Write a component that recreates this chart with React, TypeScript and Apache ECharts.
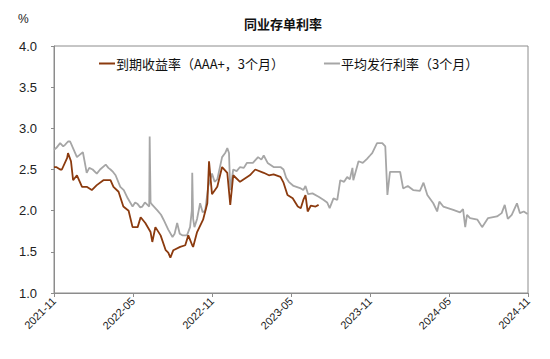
import React, { useEffect, useRef } from "react";
import * as echarts from "echarts";

const titleText = "同业存单利率";
const brownName = "到期收益率（AAA+，3个月）";
const grayName = "平均发行利率（3个月）";
const yTicks = [1.0, 1.5, 2.0, 2.5, 3.0, 3.5, 4.0];
const xTickLabels = ["2021-11", "2022-05", "2022-11", "2023-05", "2023-11", "2024-05", "2024-11"];

const brownDates = [
  "2021-11-01", "2021-11-06", "2021-11-15", "2021-11-19", "2021-12-01", "2021-12-03", "2021-12-10",
  "2021-12-15", "2021-12-24", "2022-01-05", "2022-01-16", "2022-01-28", "2022-02-08", "2022-02-22",
  "2022-03-10", "2022-03-17", "2022-03-29", "2022-04-09", "2022-04-21", "2022-04-30", "2022-05-12",
  "2022-05-19", "2022-05-30", "2022-06-11", "2022-06-15", "2022-06-22", "2022-07-04", "2022-07-16",
  "2022-07-22", "2022-07-27", "2022-08-03", "2022-08-19", "2022-08-31", "2022-09-07", "2022-09-16",
  "2022-09-18", "2022-09-27", "2022-10-11", "2022-10-21", "2022-10-25", "2022-11-01", "2022-11-13",
  "2022-11-24", "2022-12-06", "2022-12-13", "2022-12-20", "2023-01-05", "2023-01-28", "2023-02-09",
  "2023-02-27", "2023-03-11", "2023-03-22", "2023-04-07", "2023-04-14", "2023-04-23", "2023-05-05",
  "2023-05-17", "2023-05-24", "2023-05-30", "2023-06-04", "2023-06-09", "2023-06-16", "2023-06-27",
  "2023-07-04",
];
const brownValues = [
  2.53, 2.53, 2.5, 2.5, 2.64, 2.7, 2.6,
  2.37, 2.43, 2.29, 2.29, 2.25, 2.31, 2.37,
  2.37, 2.29, 2.23, 2.05, 2.0, 1.8, 1.8,
  1.92, 1.85, 1.74, 1.62, 1.8, 1.7, 1.52,
  1.49, 1.43, 1.52, 1.56, 1.58, 1.7, 1.58,
  1.56, 1.74, 1.89, 2.09, 2.6, 2.2, 2.29,
  2.53, 2.46, 2.07, 2.43, 2.35, 2.43, 2.5,
  2.46, 2.43, 2.44, 2.41, 2.34, 2.19, 2.15,
  2.05, 2.03, 2.13, 2.19, 1.99, 2.06, 2.05,
  2.07,
];

const grayDates = [
  "2021-11-01", "2021-11-06", "2021-11-15", "2021-11-22", "2021-11-26", "2021-12-03", "2021-12-08",
  "2021-12-13", "2021-12-24", "2021-12-31", "2022-01-07", "2022-01-11", "2022-01-16", "2022-01-22",
  "2022-01-30", "2022-02-08", "2022-02-15", "2022-02-27", "2022-03-05", "2022-03-10", "2022-03-16",
  "2022-03-22", "2022-04-02", "2022-04-10", "2022-04-19", "2022-04-30", "2022-05-06", "2022-05-12",
  "2022-05-18", "2022-05-23", "2022-05-29", "2022-06-04", "2022-06-08", "2022-06-09", "2022-06-11",
  "2022-06-15", "2022-06-27", "2022-07-05", "2022-07-11", "2022-07-22", "2022-08-01", "2022-08-06",
  "2022-08-12", "2022-08-18", "2022-08-24", "2022-09-04", "2022-09-11", "2022-09-15", "2022-09-16",
  "2022-09-18", "2022-09-21", "2022-09-27", "2022-10-04", "2022-10-10", "2022-10-16", "2022-10-23",
  "2022-11-01", "2022-11-07", "2022-11-13", "2022-11-24", "2022-12-01", "2022-12-06", "2022-12-10",
  "2022-12-13", "2022-12-20", "2022-12-28", "2023-01-05", "2023-01-14", "2023-01-21", "2023-02-04",
  "2023-02-15", "2023-02-22", "2023-02-27", "2023-03-08", "2023-03-22", "2023-04-07", "2023-04-14",
  "2023-04-20", "2023-04-26", "2023-05-07", "2023-05-24", "2023-05-30", "2023-06-04", "2023-06-10",
  "2023-06-20", "2023-07-04", "2023-07-16", "2023-07-24", "2023-07-30", "2023-08-08", "2023-08-17",
  "2023-08-24", "2023-09-02", "2023-09-09", "2023-09-15", "2023-09-21", "2023-09-23", "2023-10-05",
  "2023-10-15", "2023-10-25", "2023-11-01", "2023-11-06", "2023-11-17", "2023-11-29", "2023-12-06",
  "2023-12-11", "2023-12-17", "2024-01-10", "2024-01-17", "2024-01-28", "2024-02-09", "2024-02-24",
  "2024-03-03", "2024-03-12", "2024-03-26", "2024-04-04", "2024-04-09", "2024-04-18", "2024-05-11",
  "2024-05-27", "2024-06-03", "2024-06-08", "2024-06-12", "2024-06-19", "2024-07-06", "2024-07-17",
  "2024-07-31", "2024-08-21", "2024-09-01", "2024-09-08", "2024-09-15", "2024-09-24", "2024-10-06",
  "2024-10-13", "2024-10-22", "2024-10-31",
];
const grayValues = [
  2.74, 2.76, 2.82, 2.78, 2.8, 2.84, 2.84,
  2.78, 2.65, 2.68, 2.71, 2.6, 2.46, 2.52,
  2.5, 2.45, 2.5, 2.56, 2.52, 2.5, 2.47,
  2.43, 2.29, 2.25, 2.15, 2.05, 2.1, 2.08,
  2.04, 2.05, 2.1, 2.07, 2.05, 2.9, 2.1,
  2.07, 2.0, 1.95, 1.89, 1.77, 1.68, 1.72,
  1.85, 1.72, 1.7, 1.7, 1.8, 2.0, 2.46,
  1.9, 1.8, 1.9, 2.09, 1.98, 2.0, 2.29,
  2.45, 2.35, 2.38, 2.65, 2.7, 2.76, 2.7,
  2.25, 2.5, 2.48, 2.53, 2.52, 2.58, 2.58,
  2.65, 2.62, 2.67, 2.58, 2.53, 2.53, 2.5,
  2.4, 2.35, 2.3, 2.27, 2.25, 2.3, 2.2,
  2.21, 2.17, 2.13, 2.1, 2.03, 2.15, 2.13,
  2.37, 2.35, 2.41, 2.38, 2.52, 2.37, 2.6,
  2.58, 2.63, 2.67, 2.7, 2.82, 2.82, 2.78,
  2.19, 2.47, 2.47, 2.27, 2.3, 2.25, 2.24,
  2.34, 2.19, 2.09, 1.99, 2.11, 2.05, 2.01,
  1.98, 2.02, 1.8, 1.95, 1.91, 1.89, 1.8,
  1.91, 1.93, 1.97, 2.07, 1.9, 1.95, 2.09,
  1.97, 1.99, 1.96,
];

// month index since 2021-11 (fractional)
function monthIndex(d: string): number {
  const [y, m, day] = d.split("-").map(Number);
  const dim = new Date(Date.UTC(y, m, 0)).getUTCDate();
  return (y - 2021) * 12 + (m - 11) + (day - 1) / dim;
}

function labelFor(v: number): string {
  const idx = Math.round(v / 6);
  return xTickLabels[idx] ?? "";
}

export default function App() {
  const ref = useRef<HTMLDivElement>(null);
  useEffect(() => {
    if (!ref.current) return;
    const chart = echarts.init(ref.current, undefined, { renderer: "svg" });
    const axisColor = "#8c8c8c";
    const textColor = "#222";
    chart.setOption({
      animation: false,
      backgroundColor: "#fff",
      title: {
        text: titleText,
        left: 239,
        top: 12,
        textStyle: { fontSize: 13, fontWeight: "bold", color: "#111", fontFamily: "Noto Sans CJK SC" },
      },
      graphic: [
        {
          type: "text",
          left: 18,
          top: 13,
          style: { text: "%", fontSize: 12, fill: "#222", fontFamily: "Liberation Sans" },
        },
      ],
      legend: {
        left: 94,
        top: 52,
        icon: "rect",
        itemWidth: 16,
        itemHeight: 2,
        itemGap: 40,
        textStyle: { fontSize: 13, color: "#111", fontFamily: "Noto Sans CJK SC", padding: [0, 0, 0, -4] },
        data: [brownName, grayName],
      },
      grid: {
        left: 54,
        right: 22,
        top: 46,
        bottom: 66,
        show: true,
        borderColor: axisColor,
        borderWidth: 1,
        containLabel: false,
      },
      xAxis: {
        type: "value",
        min: 0,
        max: 36,
        interval: 6,
        splitLine: { show: false },
        axisLine: { show: true, lineStyle: { color: axisColor, width: 1 } },
        axisTick: { show: true, length: 4, lineStyle: { color: axisColor } },
        axisLabel: {
          rotate: 45,
          formatter: (v: number) => labelFor(v),
          fontSize: 11,
          color: textColor,
          fontFamily: "Liberation Sans",
          margin: 6,
        },
      },
      yAxis: {
        type: "value",
        min: yTicks[0],
        max: yTicks[yTicks.length - 1],
        interval: 0.5,
        splitLine: { show: false },
        axisLine: { show: true, lineStyle: { color: axisColor, width: 1 } },
        axisTick: { show: true, length: 3, lineStyle: { color: axisColor } },
        axisLabel: {
          formatter: (v: number) => v.toFixed(1),
          fontSize: 13,
          color: textColor,
          fontFamily: "Liberation Sans",
          margin: 17,
        },
      },
      series: [
        {
          name: grayName,
          type: "line",
          symbol: "none",
          z: 2,
          lineStyle: { color: "#a6a6a6", width: 1.8 },
          itemStyle: { color: "#a6a6a6" },
          data: grayDates.map((d, i) => [monthIndex(d), grayValues[i]]),
        },
        {
          name: brownName,
          type: "line",
          symbol: "none",
          z: 3,
          lineStyle: { color: "#8b3a0e", width: 1.8 },
          itemStyle: { color: "#8b3a0e" },
          data: brownDates.map((d, i) => [monthIndex(d), brownValues[i]]),
        },
      ],
    });
    return () => chart.dispose();
  }, []);
  return <div ref={ref} style={{ width: 550, height: 359, margin: -8 }} />;
}
